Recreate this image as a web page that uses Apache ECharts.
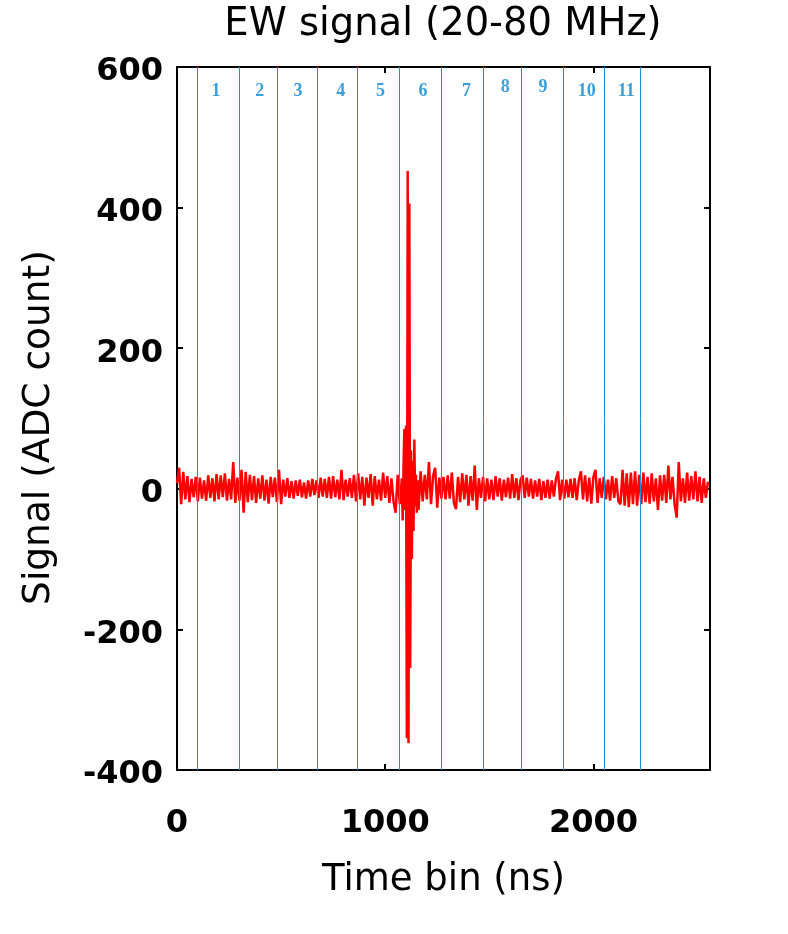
<!DOCTYPE html>
<html>
<head>
<meta charset="utf-8">
<script src="https://cdn.jsdelivr.net/npm/echarts@6/dist/echarts.min.js"></script>
<style>
    html, body {margin: 0; padding: 0; background: #fff;}
    #chart {width: 788px; height: 934px;}
</style>
</head>
<body>
<div id="chart"></div>
<script>
// noise before the pulse, one value per 10 ns bin starting at 0 ns
var binWidth = 10;
var noiseBeforeStart = 0;
var noiseBefore = [
    8, 30, -22, 24, -15, 18, -19, 14, -12, 17,
    -18, 16, -14, 12, -17, 19, -13, 15, -18, 21,
    -15, 19, -12, 22, -17, 14, -15, 38, -20, 16,
    -17, 27, -34, 24, -19, 20, -16, 18, -20, 15,
    -14, 19, -17, 13, -21, 17, -12, 16, -19, 27,
    -22, 13, -11, 15, -13, 11, -14, 12, -10, 13,
    -12, 9, -14, 12, -11, 14, -9, 12, -13, 16,
    -11, 14, -13, 17, -14, 18, -12, 13, -15, 27,
    -16, 13, -11, 15, -13, 20, -18, 22, -15, 17,
    -24, 16, -13, 21, -24, 18, -15, 13, -17, 23,
    -13, 18, -20, 15, -18, -34, 20, -22
];

// the pulse itself (ns, ADC count)
var pulseTimes = [1080, 1084, 1088, 1092, 1096, 1100, 1104, 1108, 1112, 1116,
    1120, 1124, 1128, 1132, 1136, 1140, 1144, 1148, 1152, 1156];
var pulseValues = [15, -45, 30, 85, -30, 90, -355, 452, -362, 406,
    -255, 55, -100, 40, -60, 70, -25, 20, -34, 12];

// noise after the pulse, one value per 10 ns bin starting at 1160 ns
var noiseAfterStart = 1160;
var noiseAfter = [
    -30, 25, -18, 20,
    -15, 38, -22, 18, 30, -27, 16, -14, 17, -15,
    19, -14, 23, -20, -29, 17, -19, 22, -15, 20,
    -24, 18, -17, 33, -30, 15, -13, 17, -18, 15,
    -15, 13, -16, 18, -11, 15, -17, 13, -12, 16,
    -14, 21, -13, 15, -16, 13, 19, -13, 16, -11,
    14, -14, 12, -11, 14, -16, 11, -13, 13, -14,
    12, -11, 14, 25, -16, 13, -14, 13, -12, 14,
    -13, 15, -16, 12, 25, -15, 19, -18, 16, -21,
    17, 27, -20, 15, -13, 17, -15, 13, -17, 18,
    -13, 15, -18, -22, 27, -24, 22, -26, 23, -22,
    25, -24, 20, -22, 23, -19, 17, -21, 22, -18,
    15, -30, 19, -17, 20, -20, 33, -15, 17, -22,
    -41, 38, -18, 15, -20, 23, -17, 18, -15, 25,
    -18, 17, -20, 15, -13, 10
];

// segment boundaries (ns) and their numbers
var dividerTimes = [97, 299, 481, 673, 865, 1068, 1268, 1469, 1653, 1853, 2054, 2227];
var segmentNames = ['1', '2', '3', '4', '5', '6', '7', '8', '9', '10', '11'];
var segmentTimes = [187, 398, 581, 787, 978, 1182, 1391, 1576, 1758, 1968, 2158];
var segmentLevels = [566, 566, 566, 566, 566, 566, 566, 571, 571, 566, 566];

var xTicks = [0, 1000, 2000];
var yTicks = [-400, -200, 0, 200, 400, 600];

var signal = [];
noiseBefore.forEach(function (v, i) {
    signal.push([noiseBeforeStart + i * binWidth, v]);
});
pulseTimes.forEach(function (t, i) {
    signal.push([t, pulseValues[i]]);
});
noiseAfter.forEach(function (v, i) {
    signal.push([noiseAfterStart + i * binWidth, v]);
});

var segmentData = segmentNames.map(function (name, i) {
    return [segmentTimes[i], segmentLevels[i], name];
});

var font = 'DejaVu Sans';
var frame = {show: true, onZero: false, lineStyle: {color: '#000', width: 2}};
var ticksIn = {show: true, inside: true, length: 6, lineStyle: {color: '#000', width: 2}};
var plain = function (v) {
    return String(v);
};

var chart = echarts.init(document.getElementById('chart'));
chart.setOption({
    animation: false,
    backgroundColor: '#fff',
    title: {
        text: 'EW signal (20-80 MHz)',
        left: 438,
        top: 0,
        textAlign: 'center',
        textStyle: {fontFamily: font, fontSize: 38.5, fontWeight: 'normal', color: '#000'}
    },
    grid: {left: 177, right: 78, top: 67, bottom: 164},
    xAxis: [{
        type: 'value',
        position: 'bottom',
        min: xTicks[0],
        max: 2560,
        interval: xTicks[1] - xTicks[0],
        axisLine: frame,
        axisTick: ticksIn,
        splitLine: {show: false},
        axisLabel: {
            margin: 38, fontFamily: font, fontSize: 32, fontWeight: 'bold', color: '#000',
            showMaxLabel: false, formatter: plain
        },
        name: 'Time bin (ns)',
        nameLocation: 'middle',
        nameGap: 92,
        nameTextStyle: {fontFamily: font, fontSize: 37, color: '#000'}
    }, {
        type: 'value',
        position: 'top',
        min: xTicks[0],
        max: 2560,
        interval: xTicks[1] - xTicks[0],
        axisLine: frame,
        axisTick: ticksIn,
        splitLine: {show: false},
        axisLabel: {show: false}
    }],
    yAxis: [{
        type: 'value',
        position: 'left',
        min: yTicks[0],
        max: yTicks[yTicks.length - 1],
        interval: yTicks[1] - yTicks[0],
        axisLine: frame,
        axisTick: ticksIn,
        splitLine: {show: false},
        axisLabel: {
            margin: 14, fontFamily: font, fontSize: 32, fontWeight: 'bold', color: '#000',
            verticalAlign: 'top', lineHeight: 10, formatter: plain
        },
        name: 'Signal (ADC count)',
        nameLocation: 'middle',
        nameGap: 119,
        nameTextStyle: {fontFamily: font, fontSize: 37.5, color: '#000', padding: [0, 18, 0, 0]}
    }, {
        type: 'value',
        position: 'right',
        min: yTicks[0],
        max: yTicks[yTicks.length - 1],
        interval: yTicks[1] - yTicks[0],
        axisLine: frame,
        axisTick: ticksIn,
        splitLine: {show: false},
        axisLabel: {show: false}
    }],
    series: [{
        name: 'EW',
        type: 'line',
        data: signal,
        showSymbol: false,
        sampling: null,
        lineStyle: {color: '#ff0000', width: 2.5},
        z: 3,
        markLine: {
            silent: true,
            symbol: ['none', 'none'],
            label: {show: false},
            lineStyle: {color: '#1b8fd6', width: 1, type: 'solid'},
            data: dividerTimes.map(function (t) {
                return {xAxis: t};
            })
        }
    }, {
        name: 'segments',
        type: 'scatter',
        data: segmentData,
        symbolSize: 0,
        silent: true,
        label: {
            show: true,
            position: 'inside',
            formatter: function (p) {
                return p.data[2];
            },
            fontFamily: 'Liberation Serif',
            fontWeight: 'bold',
            fontSize: 18,
            color: '#0b86d1'
        }
    }]
});
</script>
</body>
</html>
